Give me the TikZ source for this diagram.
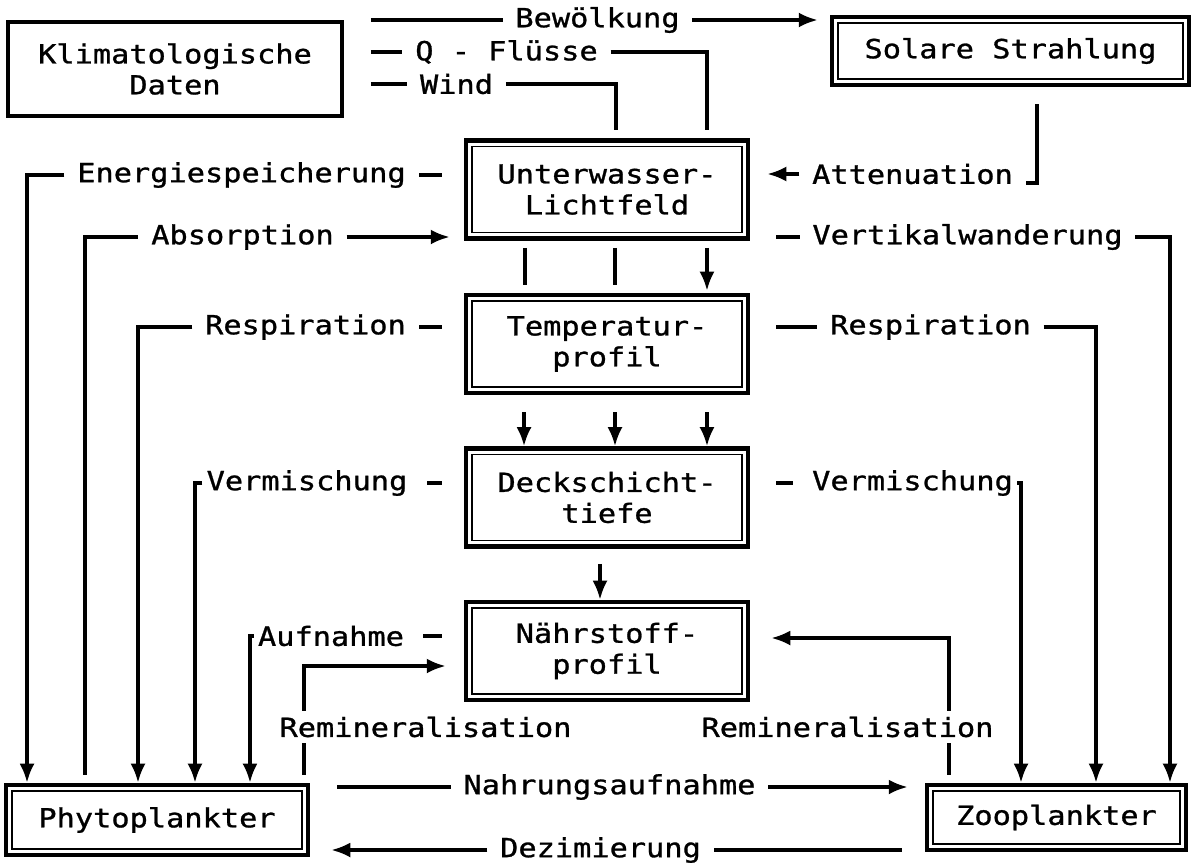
\documentclass[tikz,border=0pt]{standalone}
\usepackage{fontspec}
\usepackage{tikz}
\usetikzlibrary{arrows.meta, positioning}
\newfontfamily\plotfont[FakeStretch=1.15, FakeBold=1]{DejaVu Sans Mono}

\begin{document}
\begin{tikzpicture}
  [
    x=0.02cm, y=-0.02cm,
    >={Latex[length=0.38cm, width=0.3cm]},
    every node/.style = {font=\plotfont\fontsize{15pt}{17.6pt}\selectfont},
    box/.style = {draw, shape=rectangle, line width=2.2pt, align=center},
    dbox/.style = {draw, shape=rectangle, line width=2.6pt, align=center,
      path picture={\draw[line width=0.8pt] ([shift={(3.4pt,-3.4pt)}]path picture bounding box.north west) rectangle ([shift={(-3.4pt,3.4pt)}]path picture bounding box.south east);}},
    mid/.style = {dbox, minimum width=5.64cm, minimum height=1.96cm},
    lbl/.style = {inner xsep=0.25cm, inner ysep=2pt},
    flow/.style = {line width=1.9pt},
  ]
  \useasboundingbox (0,0) rectangle (1199,862);

  % boxes
  \node[box, minimum width=6.68cm, minimum height=1.88cm] (klima) at (175,69) {Klimatologische\\Daten};
  \node[dbox, minimum width=7.14cm, minimum height=1.36cm] (solar) at (1010.5,51) {Solare Strahlung};
  \node[mid] (licht) at (607,189.5) {Unterwasser-\\Lichtfeld};
  \node[mid] (temp) at (607,344) {Temperatur-\\profil};
  \node[mid] (deck) at (607,497.5) {Deckschicht-\\tiefe};
  \node[mid] (naehr) at (607,651) {Nährstoff-\\profil};
  \node[dbox, minimum width=6.04cm, minimum height=1.4cm] (phyto) at (157,820) {Phytoplankter};
  \node[dbox, minimum width=5.18cm, minimum height=1.3cm] (zoo) at (1056.5,817.5) {Zooplankter};

  % labels
  \node[lbl] (bew) at (597.5,20) {Bewölkung};
  \node[lbl] (qfl) at (506.5,52) {Q - Flüsse};
  \node[lbl] (wind) at (456.5,84) {Wind};
  \node[lbl] (energ) at (241.5,175) {Energiespeicherung};
  \node[lbl] (absorp) at (242.5,237) {Absorption};
  \node[lbl] (respL) at (305.5,327) {Respiration};
  \node[lbl, inner xsep=0.08cm] (vermL) at (307,483) {Vermischung};
  \node[lbl, inner xsep=0.08cm] (aufn) at (331,636) {Aufnahme};
  \node[lbl] (atten) at (912.5,174) {Attenuation};
  \node[lbl] (vertik) at (967.5,237) {Vertikalwanderung};
  \node[lbl] (respR) at (930.5,327) {Respiration};
  \node[lbl, inner xsep=0.08cm] (vermR) at (912.5,483) {Vermischung};
  \node[lbl] (nahr) at (609.5,787) {Nahrungsaufnahme};
  \node[lbl] (dezim) at (600.5,850) {Dezimierung};

  % klimatologische daten
  \draw[flow, shorten <=0.54cm] (klima.east |- bew) -- (bew.west);
  \draw[flow, ->, shorten >=0.24cm] (bew.east) -- (solar.west |- bew);
  \draw[flow, shorten <=0.54cm] (klima.east |- qfl) -- (qfl.west);
  \draw[flow, shorten >=0.16cm] (qfl.east) -| ([xshift=2cm]licht.north);
  \draw[flow, shorten <=0.54cm] (klima.east |- wind) -- (wind.west);
  \draw[flow, shorten >=0.16cm] (wind.east) -| ([xshift=0.18cm]licht.north);

  % attenuation
  \draw[flow, shorten <=0.34cm] ([xshift=0.53cm]solar.south) |- ([yshift=-0.18cm]atten.east);
  \draw[flow, ->, shorten >=0.34cm] (atten.west) -- (licht.east |- atten);

  % left side
  \draw[flow, shorten <=0.44cm] (licht.west |- energ) -- (energ.east);
  \draw[flow, ->] (energ.west) -| ([xshift=-2.6cm]phyto.north);
  \draw[flow, shorten <=0.16cm] ([xshift=-1.44cm]phyto.north) |- (absorp.west);
  \draw[flow, ->, shorten >=0.28cm] (absorp.east) -- (licht.west |- absorp);
  \draw[flow, shorten <=0.44cm] (temp.west |- respL) -- (respL.east);
  \draw[flow, ->] (respL.west) -| ([xshift=-0.38cm]phyto.north);
  \draw[flow, shorten <=0.44cm, shorten >=0.3cm] (deck.west |- vermL) -- (vermL.east);
  \draw[flow, ->] (vermL.west) -| ([xshift=0.76cm]phyto.north);
  \draw[flow, shorten <=0.44cm, shorten >=0.3cm] (naehr.west |- aufn) -- (aufn.east);
  \draw[flow, ->] (aufn.west) -| ([xshift=1.86cm]phyto.north);
  \draw[flow, ->, shorten <=0.16cm, shorten >=0.36cm] ([xshift=2.94cm]phyto.north) |- ([yshift=-0.3cm]naehr.west);

  % right side
  \draw[flow, shorten <=0.52cm] (licht.east |- vertik) -- (vertik.west);
  \draw[flow, ->] (vertik.east) -| ([xshift=2.27cm]zoo.north);
  \draw[flow, shorten <=0.52cm] (temp.east |- respR) -- (respR.west);
  \draw[flow, ->] (respR.east) -| ([xshift=0.79cm]zoo.north);
  \draw[flow, shorten <=0.52cm, shorten >=0.3cm] (deck.east |- vermR) -- (vermR.west);
  \draw[flow, ->] (vermR.east) -| ([xshift=-0.71cm]zoo.north);
  \draw[flow, ->, shorten <=0.16cm, shorten >=0.42cm] ([xshift=-2.15cm]zoo.north) |- ([yshift=0.26cm]naehr.east);

  % bottom
  \draw[flow, shorten <=0.54cm] (phyto.east |- nahr) -- (nahr.west);
  \draw[flow, ->, shorten >=0.34cm] (nahr.east) -- (zoo.west |- nahr);
  \draw[flow, shorten <=0.46cm] (zoo.west |- dezim) -- (dezim.east);
  \draw[flow, ->, shorten >=0.42cm] (dezim.west) -- (phyto.east |- dezim);

  % middle column
  \draw[flow, shorten <=0.14cm, shorten >=0.16cm] ([xshift=-1.64cm]licht.south) -- ([xshift=-1.64cm]temp.north);
  \draw[flow, shorten <=0.14cm, shorten >=0.16cm] ([xshift=0.16cm]licht.south) -- ([xshift=0.16cm]temp.north);
  \draw[flow, ->, shorten <=0.14cm, shorten >=0.04cm] ([xshift=2cm]licht.south) -- ([xshift=2cm]temp.north);
  \draw[flow, ->, shorten <=0.34cm] ([xshift=-1.66cm]temp.south) -- ([xshift=-1.66cm]deck.north);
  \draw[flow, ->, shorten <=0.34cm] ([xshift=0.16cm]temp.south) -- ([xshift=0.16cm]deck.north);
  \draw[flow, ->, shorten <=0.34cm] ([xshift=2cm]temp.south) -- ([xshift=2cm]deck.north);
  \draw[flow, ->, shorten <=0.3cm] ([xshift=-0.14cm]deck.south) -- ([xshift=-0.14cm]naehr.north);

  % remineralisation labels over the lines
  \node[lbl, fill=white, inner ysep=0.12cm] (reminL) at (425.5,727) {Remineralisation};
  \node[lbl, fill=white, inner ysep=0.12cm] (reminR) at (847.5,727) {Remineralisation};
\end{tikzpicture}
\end{document}
